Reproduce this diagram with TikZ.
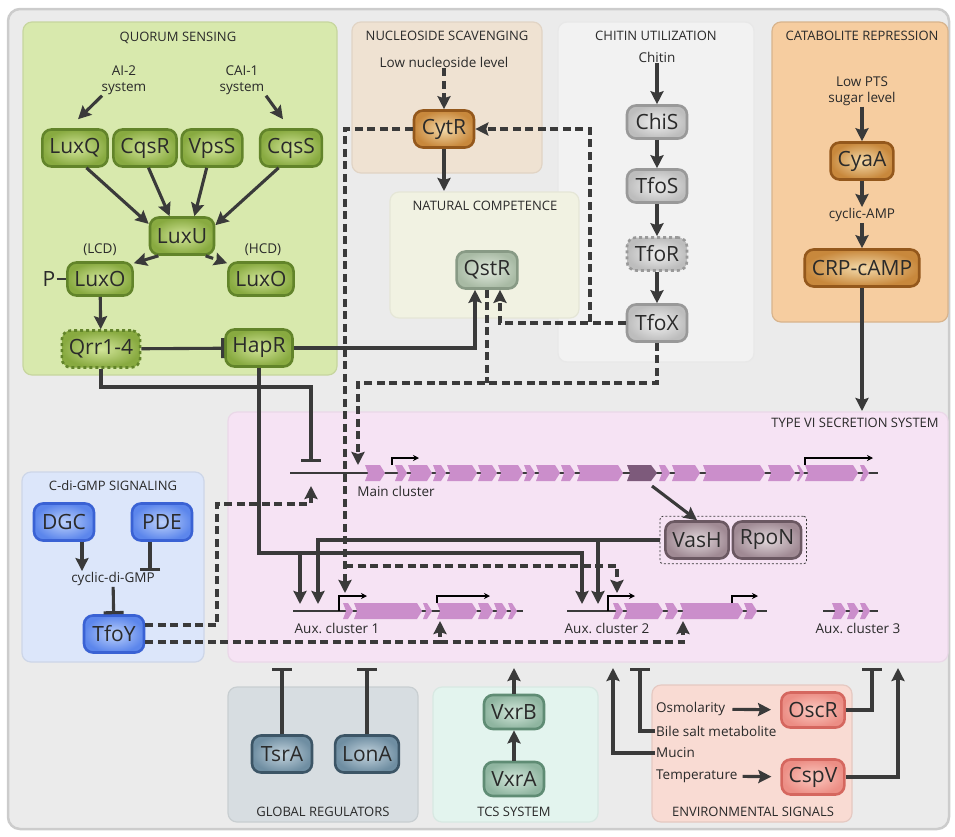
\documentclass[tikz,border=0pt]{standalone}
\usepackage{fontspec}
\setmainfont{Open Sans}
\usetikzlibrary{arrows.meta, positioning, fit}

\definecolor{ink}{HTML}{3A3A3A}
\definecolor{txt}{HTML}{2A2A2A}
\definecolor{bgfill}{HTML}{EBEBEB}
\definecolor{bgline}{HTML}{CCCCCC}
% panel colours
\definecolor{qsfill}{HTML}{D8E9AD}
\definecolor{nucfill}{HTML}{EFE2D2}
\definecolor{ncfill}{HTML}{F1F2E2}
\definecolor{chifill}{HTML}{F2F2F2}
\definecolor{catfill}{HTML}{F6CDA0}
\definecolor{t6fill}{HTML}{F6E3F4}
\definecolor{cdgfill}{HTML}{DCE6FA}
\definecolor{glofill}{HTML}{D7DDE1}
\definecolor{tcsfill}{HTML}{E3F4EE}
\definecolor{envfill}{HTML}{F9DBD3}
% box colours
\definecolor{qsin}{HTML}{D3E69A}
\definecolor{qsout}{HTML}{88AA40}
\definecolor{qsline}{HTML}{62842A}
\definecolor{brin}{HTML}{F4DAAA}
\definecolor{brout}{HTML}{C8883C}
\definecolor{brline}{HTML}{94581C}
\definecolor{qtin}{HTML}{E2EBDF}
\definecolor{qtout}{HTML}{A8BAA4}
\definecolor{qtline}{HTML}{889A85}
\definecolor{gyin}{HTML}{F0F0F0}
\definecolor{gyout}{HTML}{BDBDBD}
\definecolor{gyline}{HTML}{999999}
\definecolor{blin}{HTML}{BCD1FA}
\definecolor{blout}{HTML}{5C86EC}
\definecolor{blline}{HTML}{3A62D4}
\definecolor{slin}{HTML}{C4D4DE}
\definecolor{slout}{HTML}{6F8EA2}
\definecolor{slline}{HTML}{3C5566}
\definecolor{tcin}{HTML}{D4E8DC}
\definecolor{tcout}{HTML}{8FB5A0}
\definecolor{tcline}{HTML}{5F8C74}
\definecolor{enin}{HTML}{FBCAC1}
\definecolor{enout}{HTML}{EC8E85}
\definecolor{enline}{HTML}{D5675F}
\definecolor{vhin}{HTML}{E2D8DC}
\definecolor{vhout}{HTML}{A08A94}
\definecolor{vhline}{HTML}{6B5862}
\definecolor{genecol}{HTML}{CB8ECB}
\definecolor{darkgene}{HTML}{7D5A7B}

\tikzset{
  box/.style={rounded corners=9pt, line width=2.6pt, minimum height=37pt,
    minimum width=60pt, inner xsep=7pt, text=txt,
    font=\fontsize{21}{22}\selectfont},
  qsbox/.style={box, draw=qsline, inner color=qsin, outer color=qsout},
  brbox/.style={box, draw=brline, inner color=brin, outer color=brout},
  qtbox/.style={box, draw=qtline, inner color=qtin, outer color=qtout},
  gybox/.style={box, draw=gyline, inner color=gyin, outer color=gyout},
  blbox/.style={box, draw=blline, inner color=blin, outer color=blout},
  slbox/.style={box, draw=slline, inner color=slin, outer color=slout},
  tcbox/.style={box, draw=tcline, inner color=tcin, outer color=tcout},
  enbox/.style={box, draw=enline, inner color=enin, outer color=enout},
  vhbox/.style={box, draw=vhline, inner color=vhin, outer color=vhout},
  title/.style={font=\fontsize{13}{14}\selectfont, text=txt},
  lbl/.style={font=\fontsize{13.5}{16}\selectfont, text=txt, align=center, inner sep=1pt},
  panel/.style={rounded corners=9pt, line width=1.2pt},
  act/.style={line width=3.1pt, draw=ink, -{Stealth[length=13pt,width=13pt,inset=2pt]}},
  dact/.style={act, dash pattern=on 8pt off 4.5pt},
  dline/.style={line width=3.1pt, draw=ink, dash pattern=on 8pt off 4.5pt},
  inh/.style={line width=3.1pt, draw=ink, -{Bar[width=20pt]}},
  gene/.style={fill=genecol},
  prom/.style={line width=1.5pt, draw=black, -{Stealth[length=6pt,width=6pt]}},
}

\begin{document}
\begin{tikzpicture}[x=1pt, y=-1pt, node distance=60pt, on grid]
\useasboundingbox (0,0) rectangle (955,836);
\draw[rounded corners=12pt, fill=bgfill, draw=bgline, line width=2.5pt] (8,9) rectangle (949,829);

% panels
\path[panel, fill=qsfill, draw=qsfill!92!black] (23,22) rectangle (337,375);
\path[panel, fill=nucfill, draw=nucfill!94!black] (352,22) rectangle (542,173);
\path[panel, fill=chifill, draw=chifill!96!black] (558,22) rectangle (754,362);
\path[panel, fill=ncfill, draw=ncfill!95!black] (390,192) rectangle (579,318);
\path[panel, fill=catfill, draw=catfill!88!black] (772,22) rectangle (948,322);
\path[panel, fill=t6fill, draw=t6fill!95!black] (228,412) rectangle (948,662);
\path[panel, fill=cdgfill, draw=cdgfill!93!black] (22,472) rectangle (204,662);
\path[panel, fill=glofill, draw=glofill!93!black] (228,687) rectangle (418,822);
\path[panel, fill=tcsfill, draw=tcsfill!95!black] (433,687) rectangle (598,822);
\path[panel, fill=envfill, draw=envfill!92!black] (652,685) rectangle (852,822);

% quorum sensing
\node[title] (qsT) at (178,38) {QUORUM SENSING};
\node[lbl] (AI2) at (124,80) {AI-2\\system};
\node[lbl] (CAI1) at (242,80) {CAI-1\\system};
\node[qsbox] (LuxQ) at (75,148) {LuxQ};
\node[qsbox] (CqsR) at (145,148) {CqsR};
\node[qsbox] (VpsS) at (212,148) {VpsS};
\node[qsbox] (CqsS) at (291,148) {CqsS};
\node[qsbox] (LuxU) at (182,236) {LuxU};
\node[qsbox, minimum height=33pt] (LuxOL) at (100,279) {LuxO};
\node[qsbox, minimum height=33pt] (LuxOR) at (261,279) {LuxO};
\node[lbl] (lcd) at (100,250) {(LCD)};
\node[lbl] (hcd) at (263,250) {(HCD)};
\node[lbl, font=\fontsize{21}{22}\selectfont] (P) at (49,279) {P};
\node[qsbox, dashed] (Qrr) at (101,349) {Qrr1-4};
\node[qsbox] (HapR) at (259,348) {HapR};

% nucleoside scavenging, natural competence
\node[title] (nucT) at (447,36) {NUCLEOSIDE SCAVENGING};
\node[lbl] (lowNuc) at (444,62) {Low nucleoside level};
\node[brbox] (CytR) at (444,129) {CytR};
\node[title] (ncT) at (485,206) {NATURAL COMPETENCE};
\node[qtbox] (QstR) at (487,270) {QstR};

% chitin utilization
\node[title] (chiT) at (656,36) {CHITIN UTILIZATION};
\node[lbl] (chitin) at (657,57) {Chitin};
\node[gybox, minimum height=33pt] (ChiS) at (657,122) {ChiS};
\node[gybox, minimum height=33pt, below=64pt of ChiS] (TfoS) {TfoS};
\node[gybox, minimum height=33pt, dashed, below=68pt of TfoS] (TfoR) {TfoR};
\node[gybox, below=69pt of TfoR] (TfoX) {TfoX};

% catabolite repression
\node[title] (catT) at (862,36) {CATABOLITE REPRESSION};
\node[lbl] (lowPTS) at (862,91) {Low PTS\\sugar level};
\node[brbox] (CyaA) at (862,161) {CyaA};
\node[lbl, below=54pt of CyaA] (cAMP) {cyclic-AMP};
\node[brbox, below=53pt of cAMP] (CRP) {CRP-cAMP};

% type VI secretion system
\node[title] (t6T) at (855,423) {TYPE VI SECRETION SYSTEM};
\draw[ink, line width=2.6pt] (290,473) -- (878,473);
\draw[ink, line width=2.6pt] (293,611) -- (523,611);
\draw[ink, line width=2.6pt] (567,611) -- (767,611);
\draw[ink, line width=2.6pt] (823,611) -- (878,611);
\foreach \a/\b in {365/385, 395/407, 408/432, 433/446, 447/477, 478/497, 498/523,
    524/535, 536/560, 561/575, 577/623, 659/670, 672/700, 703/765, 768/795,
    797/804, 805/858, 860/869}
  \fill[gene] (\a,465) -- ({\b-5},465) -- (\b,473) -- ({\b-5},481) -- (\a,481) -- ({\a+3},473) -- cycle;
\fill[darkgene] (627,465) -- (651,465) -- (657,473) -- (651,481) -- (627,481) -- (630,473) -- cycle;
\foreach \a/\b in {343/353, 354/422, 423/432, 437/477, 478/493, 494/507, 508/517,
    613/623, 624/663, 665/678, 680/743, 744/757, 832/846, 847/859, 860/870}
  \fill[gene] (\a,603) -- ({\b-5},603) -- (\b,611) -- ({\b-5},619) -- (\a,619) -- ({\a+3},611) -- cycle;
\draw[prom] (392,465) -- (392,458) -- (419,458);
\draw[prom] (805,465) -- (805,458) -- (873,458);
\draw[prom] (339,611) -- (339,596) -- (367,596);
\draw[prom] (437,603) -- (437,596) -- (490,596);
\draw[prom] (608,611) -- (608,596) -- (635,596);
\draw[prom] (732,603) -- (732,596) -- (758,596);
\node[lbl] (mainL) at (396,491) {Main cluster};
\node[lbl] (aux1L) at (337,628) {Aux.\ cluster 1};
\node[lbl] (aux2L) at (607,628) {Aux.\ cluster 2};
\node[lbl] (aux3L) at (858,628) {Aux.\ cluster 3};
\node[vhbox] (VasH) at (697,540) {VasH};
\node[vhbox, right=70pt of VasH] (RpoN) {RpoN};
\node[draw=ink, dash pattern=on 2pt off 2pt, line width=0.8pt, rounded corners=3pt,
  fit=(VasH)(RpoN), inner sep=4pt] (sigma) {};

% c-di-GMP signaling
\node[title] (cdgT) at (113,486) {C-di-GMP SIGNALING};
\node[blbox] (DGC) at (64,522) {DGC};
\node[blbox] (PDE) at (162,522) {PDE};
\node[lbl] (cdg) at (113,579) {cyclic-di-GMP};
\node[blbox] (TfoY) at (114,634) {TfoY};

% global regulators, TCS, environment
\node[title] (gloT) at (323,812) {GLOBAL REGULATORS};
\node[slbox] (TsrA) at (282,754) {TsrA};
\node[slbox] (LonA) at (367,754) {LonA};
\node[title] (tcsT) at (514,812) {TCS SYSTEM};
\node[tcbox, minimum height=34pt] (VxrB) at (514,712) {VxrB};
\node[tcbox, minimum height=34pt, below=67pt of VxrB] (VxrA) {VxrA};
\node[title] (envT) at (753,812) {ENVIRONMENTAL SIGNALS};
\node[enbox, minimum height=35pt] (OscR) at (813,710) {OscR};
\node[enbox, minimum height=35pt, below=67pt of OscR] (CspV) {CspV};
\node[lbl, anchor=west] (osm) at (655,709) {Osmolarity};
\node[lbl, anchor=west] (bile) at (655,731) {Bile salt metabolite};
\node[lbl, anchor=west] (mucin) at (655,753) {Mucin};
\node[lbl, anchor=west] (temp) at (655,776) {Temperature};

% free ends
\coordinate (qrrT) at (311,462);
\coordinate (qrrY) at (0,387);
\coordinate (tfyC) at (217,504);
\coordinate (tfyT) at (311,486);
\coordinate (tfyLow) at (0,642);
\coordinate (mainD) at (358,465);
\coordinate (tfxY) at (0,383);
\coordinate (cytJ) at (590,322);
\coordinate (cytY) at (0,566);
\coordinate (aux1C) at (345,593);
\coordinate (aux2C) at (617,593);
\coordinate (hapY) at (0,553);
\coordinate (aux1H) at (300,604);
\coordinate (aux2H) at (582,604);
\coordinate (aux1V) at (318,604);
\coordinate (aux2V) at (598,604);
\coordinate (aux1T) at (440,621);
\coordinate (aux2T) at (683,621);
\coordinate (darkG) at (652,486);
\coordinate (ncTop) at (444,191);
\coordinate (t6top) at (0,411);
\coordinate (t6bot) at (0,668);
\coordinate (bileT) at (640,668);
\coordinate (mucT) at (613,668);
\coordinate (oscT) at (872,668);
\coordinate (cspT) at (898,668);

% quorum sensing links
\draw[act] ([xshift=-22pt]AI2.south) -- ([xshift=3pt,yshift=9pt]LuxQ.north);
\draw[act] ([xshift=24pt]CAI1.south) -- ([xshift=-8pt,yshift=9pt]CqsS.north);
\draw[act] (LuxQ.-60) -- (LuxU.160);
\draw[act] (CqsR.-80) -- (LuxU.122);
\draw[act] (VpsS.-105) -- (LuxU.58);
\draw[act] (CqsS.-122) -- (LuxU.18);
\draw[act] (LuxU.-140) -- (LuxOL.25);
\draw[dact] (LuxU.-40) -- (LuxOR.155);
\draw[ink, line width=2.6pt] (P) -- (LuxOL);
\draw[act] (LuxOL) -- (Qrr);
\draw[inh] (Qrr) -- (HapR);
\draw[act] (HapR.east) -| ([xshift=-12pt]QstR.south);
\draw[inh] (Qrr.south) |- (qrrT |- qrrY) -- (qrrT);
\draw[act] (HapR.south) |- (aux2H |- hapY) -- (aux2H);
\draw[act] (aux1H |- hapY) -- (aux1H);

% nucleoside and chitin links
\draw[dact] (lowNuc) -- (CytR);
\draw[act] (CytR) -- (ncTop);
\draw[dact] (CytR.west) -| (aux1C);
\draw[dact] (aux1C |- cytY) -| (aux2C);
\draw[act] (chitin) -- (ChiS);
\draw[act] (ChiS) -- (TfoS);
\draw[act] (TfoS) -- (TfoR);
\draw[act] (TfoR) -- (TfoX);
\draw[dact] (TfoX.west) -| ([xshift=13pt]QstR.south);
\draw[dact] (cytJ) |- (CytR.east);
\draw[dact] (TfoX.south) |- (mainD |- tfxY) -- (mainD);
\draw[dline] (QstR.south) -- (QstR.south |- tfxY);

% catabolite links
\draw[act] (lowPTS) -- (CyaA);
\draw[act] (CyaA) -- (cAMP);
\draw[act] (cAMP) -- (CRP);
\draw[act] (CRP) -- (CRP |- t6top);

% c-di-GMP links
\draw[act] ([xshift=18pt]DGC.south) -- ([xshift=18pt]DGC.south |- cdg.north);
\draw[inh] ([xshift=-12pt]PDE.south) -- ([xshift=-12pt]PDE.south |- cdg.north);
\draw[inh] (cdg) -- (TfoY);
\draw[dact] ([yshift=9pt]TfoY.east) -| (tfyC) -| (tfyT);
\draw[dact] (TfoY.east |- tfyLow) -| (aux1T);
\draw[dact] (aux1T |- tfyLow) -| (aux2T);

% VasH links
\draw[act] (darkG) -- (VasH.north);
\draw[act] (sigma.west) -| (aux1V);
\draw[act] (aux2V |- sigma.west) -- (aux2V);

% bottom links
\draw[inh] (TsrA) -- (TsrA |- t6bot);
\draw[inh] (LonA) -- (LonA |- t6bot);
\draw[act] (VxrA) -- (VxrB);
\draw[act] (VxrB) -- (VxrB |- t6bot);
\draw[act, shorten <=6pt, shorten >=9pt] (osm) -- (OscR);
\draw[act, shorten <=4pt, shorten >=9pt] (temp) -- (CspV);
\draw[inh] (bile.west) -| (bileT);
\draw[act] (mucin.west) -| (mucT);
\draw[inh] (OscR.east) -| (oscT);
\draw[act] (CspV.east) -| (cspT);
\end{tikzpicture}
\end{document}
